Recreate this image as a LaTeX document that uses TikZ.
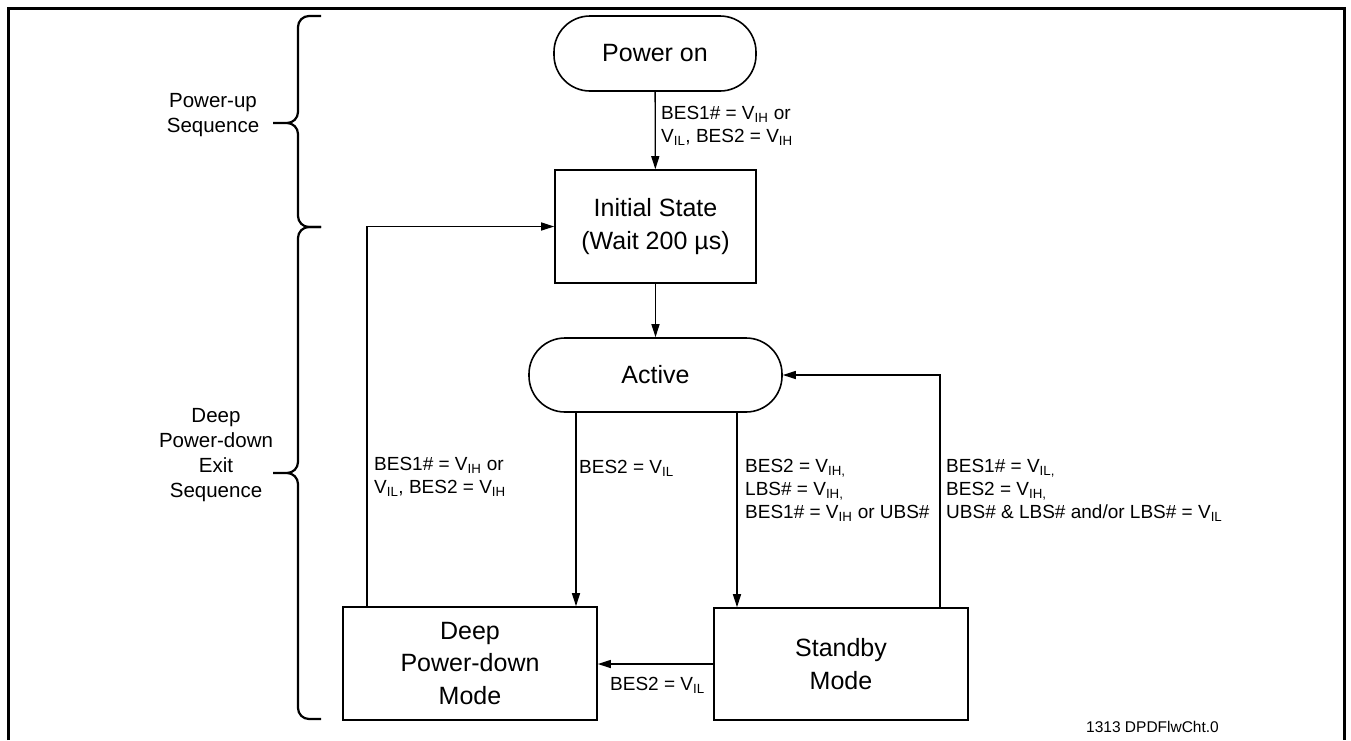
\documentclass[tikz,border=0pt]{standalone}
\usepackage{fontspec}
\setmainfont{Liberation Sans}
\usetikzlibrary{arrows.meta}
\newcommand{\vs}[1]{V\textsubscript{#1}}
% curly bracket for the sequence names: top y, tip y, bottom y
\newcommand{\seqbrace}[3]{%
  \draw[line width=2.2pt,line join=round] (321,#1) -- (309,#1) to[out=180,in=90] (298,#1+11)
    -- (298,#2-11) to[out=-90,in=0] (287,#2) to[out=0,in=90] (298,#2+11)
    -- (298,#3-11) to[out=-90,in=180] (309,#3) -- (321,#3) (287,#2) -- (273,#2);}

\begin{document}
\begin{tikzpicture}[x=1pt,y=-1pt,
    term/.style={draw,line width=1.6pt,rounded corners=36pt,font=\fontsize{25}{32}\selectfont},
    state/.style={draw,line width=1.6pt,align=center,font=\fontsize{25}{32.5}\selectfont},
    cond/.style={inner sep=0pt,align=left,anchor=west,font=\fontsize{19}{23}\selectfont},
    side/.style={inner sep=0pt,align=center,font=\fontsize{20.5}{25}\selectfont},
    flow/.style={line width=1.3pt,-{Triangle[length=13pt,width=8pt]}}]
    \useasboundingbox (0,0) rectangle (1351,740);

    % frame
    \draw[line width=3pt] (8,740) -- (8,8) -- (1344,8) -- (1344,740);

    % sequences
    \seqbrace{16}{123}{227}
    \seqbrace{227}{473}{719}
    \node[side] (pu) at (213,115.5) {Power-up\\Sequence};
    \node[side] (dp) at (216,455) {Deep\\Power-down\\Exit\\Sequence};

    % states
    \node[term,minimum width=202pt,minimum height=75pt] (pon) at (655,53.5) {Power on};
    \node[state,minimum width=201pt,minimum height=113pt] (init) at (655.5,226.5) {Initial State\\(Wait 200 µs)};
    \node[term,minimum width=253pt,minimum height=74pt] (act) at (655.5,375) {Active};
    \node[state,minimum width=254pt,minimum height=113pt] (deep) at (470,663.5) {Deep\\Power-down\\Mode};
    \node[state,minimum width=254pt,minimum height=112pt] (stby) at (841,664) {Standby\\Mode};

    \coordinate (ad) at ([xshift=-79.5pt]act.south);
    \coordinate (as) at ([xshift=81.5pt]act.south);
    \coordinate (sa) at ([xshift=99pt]stby.north);
    \coordinate (dn) at ([xshift=-103pt]deep.north);

    % transitions
    \draw[flow] (pon) -- (init);
    \draw[flow] (init) -- (act);
    \draw[flow] (ad) -- (ad |- deep.north);
    \draw[flow] (as) -- (as |- stby.north);
    \draw[flow] (sa) |- (act.east);
    \draw[flow] (stby.west) -- (stby.west -| deep.east);
    \draw[flow] (dn) |- (init.west);

    \node[cond] (c1) at (661,126) {BES1\# = \vs{IH} or\\\vs{IL}, BES2 = \vs{IH}};
    \node[cond] (c2) at (374,476.5) {BES1\# = \vs{IH} or\\\vs{IL}, BES2 = \vs{IH}};
    \node[cond] (c3) at (579,468) {BES2 = \vs{IL}};
    \node[cond] (c4) at (745,490) {BES2 = \vs{IH,}\\LBS\# = \vs{IH,}\\BES1\# = \vs{IH} or UBS\#};
    \node[cond] (c5) at (946,490) {BES1\# = \vs{IL,}\\BES2 = \vs{IH,}\\UBS\# \& LBS\# and/or LBS\# = \vs{IL}};
    \node[cond] (c6) at (610,685) {BES2 = \vs{IL}};

    \node[inner sep=0pt,anchor=west,font=\fontsize{15.5}{18}\selectfont] (fig) at (1086,727) {1313 DPDFlwCht.0};
\end{tikzpicture}
\end{document}
